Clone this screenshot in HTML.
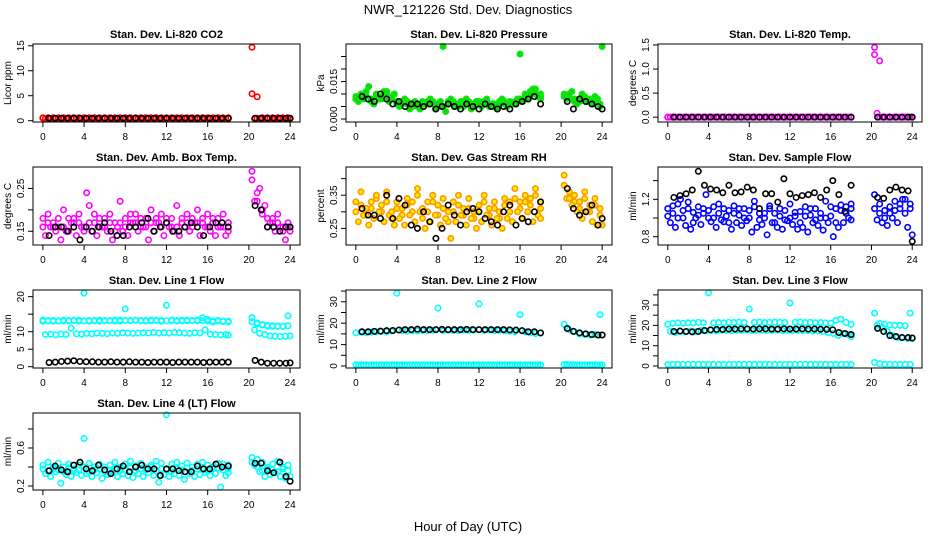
<!DOCTYPE html>
<html><head><meta charset="utf-8"><style>
html,body{margin:0;padding:0;background:#fff;}
svg{display:block;font-family:"Liberation Sans",sans-serif;}
</style></head><body>
<svg id="chart" width="936" height="540" viewBox="0 0 936 540" xmlns="http://www.w3.org/2000/svg">
<rect width="936" height="540" fill="#fff"/>
<text x="468" y="14" text-anchor="middle" font-size="13">NWR_121226  Std. Dev. Diagnostics</text>
<text x="468" y="531" text-anchor="middle" font-size="13">Hour of Day (UTC)</text>
</svg>
<script>
// shared time axes (hours)
const colorTimes = [0,0.5,1,1.5,2,2.5,3,3.5,4,4.5,5,5.5,6,6.5,7,7.5,8,8.5,9,9.5,10,10.5,11,11.5,12,12.5,13,13.5,14,14.5,15,15.5,16,16.5,17,17.5,18,20.3,20.8,21.3,21.8,22.3,22.8,23.3,23.8];
const colorTimes2 = [0.25,0.75,1.25,1.75,2.25,2.75,3.25,3.75,4.25,4.75,5.25,5.75,6.25,6.75,7.25,7.75,8.25,8.75,9.25,9.75,10.25,10.75,11.25,11.75,12.25,12.75,13.25,13.75,14.25,14.75,15.25,15.75,16.25,16.75,17.25,17.75,18.0,20.55,21.05,21.55,22.05,22.55,23.05,23.55,24.0];
const blackTimes = [0.6,1.2,1.8,2.4,3.0,3.6,4.2,4.8,5.4,6.0,6.6,7.2,7.8,8.4,9.0,9.6,10.2,10.8,11.4,12.0,12.6,13.2,13.8,14.4,15.0,15.6,16.2,16.8,17.4,18.0,20.6,21.2,21.8,22.4,23.0,23.6,24.0];
const xTicks = [0,4,8,12,16,20,24];

// Panel 1: CO2
const co2A = [0.5,0.5,0.5,0.5,0.5,0.5,0.5,0.5,0.5,0.5,0.5,0.5,0.5,0.5,0.5,0.5,0.5,0.5,0.5,0.5,0.5,0.5,0.5,0.5,0.5,0.5,0.5,0.5,0.5,0.5,0.5,0.5,0.5,0.5,0.5,0.5,0.5,14.7,0.5,0.5,0.5,0.5,0.5,0.5,0.5];
const co2B = [0.4,0.4,0.4,0.4,0.4,0.4,0.4,0.4,0.4,0.4,0.4,0.4,0.4,0.4,0.4,0.4,0.4,0.4,0.4,0.4,0.4,0.4,0.4,0.4,0.4,0.4,0.4,0.4,0.4,0.4,0.4,0.4,0.4,0.4,0.4,0.4,0.4,0.4,0.4,0.4,0.4,0.4,0.4,0.4,0.4];
const co2C = [0.6,0.6,0.6,0.6,0.6,0.6,0.6,0.6,0.6,0.6,0.6,0.6,0.6,0.6,0.6,0.6,0.6,0.6,0.6,0.6,0.6,0.6,0.6,0.6,0.6,0.6,0.6,0.6,0.6,0.6,0.6,0.6,0.6,0.6,0.6,0.6,0.6,5.4,4.8,0.6,0.6,0.6,0.6,0.6,0.6];
const co2Black = [0.5,0.5,0.5,0.5,0.5,0.5,0.5,0.5,0.5,0.5,0.5,0.5,0.5,0.5,0.5,0.5,0.5,0.5,0.5,0.5,0.5,0.5,0.5,0.5,0.5,0.5,0.5,0.5,0.5,0.5,0.5,0.5,0.5,0.5,0.5,0.5,0.5];

// Panel 2: Pressure
const presA = [0.009,0.010,0.011,0.008,0.010,0.009,0.011,0.008,0.007,0.006,0.007,0.005,0.006,0.007,0.006,0.007,0.005,0.029,0.006,0.007,0.006,0.005,0.007,0.006,0.007,0.006,0.005,0.006,0.007,0.006,0.007,0.006,0.026,0.010,0.011,0.012,0.010,0.010,0.009,0.008,0.007,0.009,0.008,0.007,0.006];
const presB = [0.007,0.008,0.013,0.006,0.008,0.011,0.007,0.010,0.005,0.008,0.004,0.007,0.004,0.006,0.008,0.004,0.007,0.003,0.008,0.005,0.007,0.008,0.004,0.007,0.005,0.008,0.006,0.004,0.008,0.005,0.006,0.008,0.007,0.008,0.012,0.009,0.008,0.008,0.011,0.006,0.010,0.007,0.006,0.008,0.029];
const presC = [0.008,0.009,0.009,0.007,0.009,0.008,0.009,0.009,0.006,0.007,0.006,0.006,0.005,0.006,0.007,0.006,0.006,0.005,0.007,0.006,0.005,0.006,0.006,0.005,0.006,0.007,0.006,0.005,0.006,0.007,0.006,0.007,0.008,0.009,0.010,0.010,0.009,0.009,0.010,0.007,0.008,0.008,0.007,0.009,0.005];
const presBlack = [0.009,0.008,0.007,0.010,0.008,0.006,0.007,0.005,0.006,0.006,0.005,0.006,0.004,0.005,0.006,0.005,0.004,0.006,0.005,0.004,0.006,0.005,0.004,0.005,0.004,0.006,0.007,0.008,0.009,0.006,0.007,0.004,0.008,0.007,0.006,0.005,0.004];

// Panel 3: Li-820 Temp
const tempA = [0,0,0,0,0,0,0,0,0,0,0,0,0,0,0,0,0,0,0,0,0,0,0,0,0,0,0,0,0,0,0,0,0,0,0,0,0,1.45,0,0,0,0,0,0,0];
const tempB = [0,0,0,0,0,0,0,0,0,0,0,0,0,0,0,0,0,0,0,0,0,0,0,0,0,0,0,0,0,0,0,0,0,0,0,0,0,0.08,0,0,0,0,0,0,0];
const tempC = [0,0,0,0,0,0,0,0,0,0,0,0,0,0,0,0,0,0,0,0,0,0,0,0,0,0,0,0,0,0,0,0,0,0,0,0,0,1.3,1.17,0,0,0,0,0,0];
const tempBlack = [0,0,0,0,0,0,0,0,0,0,0,0,0,0,0,0,0,0,0,0,0,0,0,0,0,0,0,0,0,0,0,0,0,0,0,0,0];

// Panel 4: Amb box temp
const ambA = [0.18,0.19,0.17,0.16,0.2,0.18,0.17,0.19,0.16,0.21,0.17,0.18,0.16,0.19,0.17,0.22,0.18,0.17,0.19,0.16,0.18,0.2,0.17,0.19,0.18,0.16,0.21,0.17,0.19,0.18,0.2,0.17,0.19,0.18,0.16,0.19,0.17,0.27,0.24,0.19,0.18,0.17,0.19,0.16,0.17];
const ambB = [0.14,0.16,0.15,0.13,0.15,0.17,0.14,0.16,0.24,0.15,0.14,0.16,0.15,0.13,0.16,0.15,0.14,0.17,0.15,0.16,0.13,0.15,0.17,0.14,0.16,0.15,0.14,0.16,0.15,0.17,0.14,0.16,0.15,0.14,0.16,0.14,0.15,0.22,0.25,0.21,0.17,0.15,0.16,0.13,0.15];
const ambC = [0.16,0.17,0.16,0.18,0.16,0.15,0.18,0.17,0.15,0.17,0.19,0.16,0.18,0.17,0.15,0.17,0.16,0.19,0.17,0.18,0.16,0.17,0.18,0.16,0.17,0.18,0.16,0.18,0.17,0.16,0.17,0.18,0.16,0.17,0.18,0.16,0.17,0.29,0.22,0.2,0.16,0.18,0.17,0.15,0.16];
const ambBlack = [0.14,0.16,0.16,0.15,0.16,0.13,0.16,0.15,0.16,0.17,0.15,0.14,0.14,0.16,0.16,0.17,0.18,0.15,0.16,0.17,0.15,0.15,0.16,0.17,0.16,0.14,0.16,0.17,0.17,0.16,0.21,0.20,0.16,0.16,0.15,0.16,0.16];

// Panel 5: Gas stream RH
const rhA = [0.3,0.32,0.29,0.31,0.34,0.3,0.33,0.28,0.31,0.29,0.32,0.3,0.35,0.28,0.3,0.33,0.29,0.31,0.27,0.3,0.32,0.29,0.31,0.28,0.3,0.33,0.29,0.31,0.28,0.32,0.3,0.34,0.31,0.33,0.32,0.35,0.31,0.41,0.36,0.33,0.31,0.34,0.3,0.32,0.29];
const rhB = [0.27,0.29,0.26,0.28,0.3,0.27,0.29,0.26,0.28,0.26,0.29,0.27,0.3,0.25,0.27,0.29,0.26,0.28,0.22,0.27,0.29,0.26,0.28,0.25,0.27,0.29,0.26,0.28,0.25,0.28,0.27,0.3,0.28,0.3,0.27,0.29,0.28,0.34,0.32,0.3,0.28,0.3,0.27,0.26,0.26];
const rhC = [0.33,0.36,0.31,0.33,0.35,0.32,0.36,0.3,0.33,0.31,0.34,0.33,0.37,0.31,0.33,0.35,0.32,0.34,0.3,0.33,0.35,0.31,0.34,0.3,0.32,0.35,0.31,0.33,0.3,0.34,0.33,0.37,0.33,0.35,0.34,0.37,0.33,0.38,0.34,0.35,0.33,0.36,0.32,0.34,0.31];
const rhBlack = [0.31,0.29,0.29,0.28,0.35,0.28,0.34,0.32,0.26,0.25,0.3,0.27,0.22,0.25,0.32,0.29,0.26,0.3,0.31,0.3,0.28,0.27,0.26,0.3,0.32,0.26,0.28,0.27,0.3,0.33,0.37,0.31,0.29,0.3,0.32,0.26,0.28];

// Panel 6: Sample flow
const flowA = [1.1,1.05,1.15,1.0,1.1,0.95,1.12,1.05,1.08,1.0,1.15,1.1,0.95,1.05,1.1,1.0,1.08,1.12,0.98,1.05,1.1,0.95,1.02,1.08,1.0,1.06,0.95,1.02,1.1,0.98,1.05,1.0,1.12,0.95,1.08,1.12,1.15,1.1,1.05,1.0,1.12,1.08,1.15,1.05,1.1];
const flowB = [0.95,0.9,1.2,0.92,0.88,1.0,0.93,1.25,0.96,0.9,0.98,1.02,0.88,0.95,0.92,0.97,0.85,0.9,0.93,0.82,0.95,0.9,0.88,0.97,0.93,0.88,0.9,0.85,0.95,0.92,0.87,0.95,0.8,0.9,0.95,1.0,0.98,0.98,0.95,0.92,1.0,0.95,1.2,0.9,0.82];
const flowC = [1.02,1.13,1.0,1.08,1.17,1.06,1.03,1.1,1.0,1.12,1.05,0.96,1.08,1.13,1.03,1.1,1.0,1.18,1.05,1.0,1.13,1.05,1.1,0.98,1.15,1.02,1.07,1.12,1.03,1.1,1.0,1.18,1.02,1.1,1.14,1.05,1.1,1.25,1.15,1.08,1.05,1.18,1.1,1.2,1.15];
const flowBlack = [1.22,1.24,1.26,1.3,1.5,1.35,1.31,1.3,1.27,1.35,1.27,1.28,1.33,1.3,1.1,1.26,1.26,1.17,1.42,1.26,1.22,1.24,1.25,1.27,1.22,1.3,1.4,1.25,1.07,1.35,1.22,1.21,1.3,1.33,1.3,1.29,0.75];

// Panel 7: Line 1 flow
const line1A = [13,13.2,13,13.1,13,13.2,13.3,13,21,13.2,13.1,13,13.2,13.1,13.3,13,16.5,13.2,13.3,13.1,13.2,13.3,13.2,13,17.5,13.3,13.2,13.1,13.3,13.2,13.1,13.2,13,13.1,13.2,13,13,14,12.5,12,11.8,11.5,11.6,11.5,14.5];
const line1B = [9.2,9.3,9.1,9.3,9.2,11,9.4,9.3,9.5,9.4,9.6,9.5,9.4,9.6,9.5,9.7,9.6,9.5,9.6,9.7,9.6,9.8,9.6,9.7,9.6,9.8,9.7,9.6,9.5,9.7,9.6,10.5,9.3,9.2,9.1,9.2,9.0,10.5,9.5,9.2,8.8,8.7,8.6,8.7,8.8];
const line1C = [13.3,13.1,13.2,13.0,13.3,13.1,13.2,13.3,13.1,13.0,13.2,13.3,13.1,13.2,13.0,13.3,13.2,13.1,13.3,13.2,13.0,13.1,13.3,13.2,13.1,13.2,13.0,13.3,13.1,13.2,13.3,14,13.5,12.8,13.0,12.9,12.8,12.8,12.2,11.9,11.6,11.7,11.5,11.6,11.7];
const line1Black = [1.2,1.3,1.5,1.6,1.7,1.5,1.4,1.4,1.3,1.3,1.4,1.3,1.3,1.4,1.3,1.3,1.2,1.3,1.3,1.3,1.2,1.3,1.3,1.3,1.3,1.2,1.3,1.3,1.3,1.3,1.8,1.3,1.0,1.0,1.0,1.0,1.1];

// Panel 8: Line 2 flow
const line2A = [15.5,15.8,15.5,15.8,16,16.2,16,16.3,34,16.5,16.3,16.5,16.4,16.6,16.5,16.7,27,16.5,16.7,16.6,16.5,16.8,16.6,16.7,29,16.6,16.8,16.5,16.7,16.4,16.2,16,24,16,15.5,15.2,15.3,19.5,17,16,15,14.8,14.5,14.7,24];
const line2B = [0.5,0.5,0.5,0.5,0.5,0.5,0.5,0.5,0.5,0.5,0.5,0.5,0.5,0.5,0.5,0.5,0.5,0.5,0.5,0.5,0.5,0.5,0.5,0.5,0.5,0.5,0.5,0.5,0.5,0.5,0.5,0.5,0.5,0.5,0.5,0.5,0.5,0.8,0.6,0.5,0.5,0.5,0.5,0.5,0.5];
const line2C = [0.6,0.6,0.6,0.6,0.6,0.6,0.6,0.6,0.6,0.6,0.6,0.6,0.6,0.6,0.6,0.6,0.6,0.6,0.6,0.6,0.6,0.6,0.6,0.6,0.6,0.6,0.6,0.6,0.6,0.6,0.6,0.6,0.6,0.6,0.6,0.6,0.6,0.7,0.6,0.6,0.6,0.6,0.6,0.6,0.6];
const line2Black = [16,16,16.2,16.3,16.5,16.6,16.8,17,17,17.2,17,17,17,17.1,17,17,17,17.1,17,17,17,17,17,17,16.9,16.8,16.5,16,16,15.5,17.5,16.2,15.5,15,14.7,14.5,14.5];

// Panel 9: Line 3 flow
const line3A = [20.5,21,21.2,21,21.3,21.2,21.5,21.3,36,21.2,21.4,21.3,21.5,21.4,21.6,21.4,28,21.5,21.6,21.4,21.5,21.6,21.5,21.4,31,21.5,21.6,21.4,21.5,21.3,21.4,21.2,21,22.5,23,21.5,20.5,26,21,20.5,20.2,20,20,19.8,26];
const line3B = [17,16.5,17,16.8,17.2,17,17.5,17.2,17.5,17.3,17.6,17.5,17.4,17.6,17.5,17.7,17.5,17.6,17.7,17.5,17.6,17.7,17.5,17.6,17.5,17.6,17.5,17.4,17.3,17.2,17,16.5,16,15,16,15.5,14.5,20,19,17,15,14,14,13.5,13.5];
const line3C = [0.8,0.8,0.8,0.8,0.8,0.8,0.8,0.8,0.8,0.8,0.8,0.8,0.8,0.8,0.8,0.8,0.8,0.8,0.8,0.8,0.8,0.8,0.8,0.8,0.8,0.8,0.8,0.8,0.8,0.8,0.8,0.8,0.8,0.8,0.8,0.8,0.8,1.8,1.2,0.8,0.8,0.8,0.8,0.8,0.8];
const line3Black = [17,17.2,17,16.8,17,17.5,17.8,18,18,18.2,18.2,18.3,18.3,18.2,18.3,18.3,18.2,18.2,18.3,18.2,18.2,18.3,18.2,18.2,18.1,18,17.8,16.5,16,15.5,18.5,17,15,14.5,14,14,13.8];

// Panel 10: Line 4 (LT) flow
const line4A = [0.42,0.45,0.38,0.44,0.4,0.43,0.38,0.42,0.7,0.44,0.4,0.43,0.35,0.42,0.45,0.4,0.43,0.46,0.41,0.44,0.39,0.42,0.46,0.44,0.95,0.43,0.45,0.41,0.44,0.4,0.43,0.45,0.42,0.4,0.44,0.43,0.42,0.5,0.48,0.45,0.4,0.43,0.46,0.38,0.42];
const line4B = [0.33,0.3,0.35,0.23,0.32,0.3,0.34,0.31,0.33,0.3,0.34,0.28,0.32,0.35,0.3,0.33,0.31,0.29,0.33,0.3,0.34,0.31,0.24,0.32,0.3,0.33,0.31,0.27,0.33,0.3,0.32,0.34,0.31,0.33,0.19,0.31,0.34,0.42,0.35,0.3,0.32,0.34,0.3,0.28,0.3];
const line4C = [0.38,0.36,0.4,0.37,0.35,0.39,0.36,0.37,0.4,0.35,0.37,0.38,0.4,0.36,0.38,0.36,0.37,0.39,0.36,0.38,0.37,0.4,0.36,0.38,0.37,0.35,0.38,0.37,0.39,0.36,0.38,0.37,0.36,0.38,0.39,0.37,0.38,0.45,0.4,0.36,0.38,0.37,0.35,0.4,0.36];
const line4Black = [0.36,0.41,0.37,0.35,0.42,0.45,0.38,0.36,0.42,0.37,0.33,0.38,0.41,0.35,0.4,0.42,0.38,0.38,0.31,0.38,0.38,0.36,0.35,0.35,0.41,0.38,0.38,0.43,0.4,0.41,0.44,0.44,0.36,0.34,0.45,0.3,0.25];

// tick values & labels
const co2Ticks=[0,5,10,15], co2Labels=["0","5","10","15"];
const presTicks=[0,0.005,0.01,0.015,0.02,0.025], presLabels=["0.000","","","0.015","",""];
const tempTicks=[0,0.5,1,1.5], tempLabels=["0.0","0.5","1.0","1.5"];
const ambTicks=[0.15,0.2,0.25], ambLabels=["0.15","","0.25"];
const rhTicks=[0.25,0.3,0.35,0.4], rhLabels=["0.25","","0.35",""];
const flowTicks=[0.8,1.0,1.2,1.4], flowLabels=["0.8","","1.2",""];
const line1Ticks=[0,5,10,15,20], line1Labels=["0","5","10","","20"];
const line2Ticks=[0,5,10,15,20,25,30,35], line2Labels=["0","","10","","20","","30",""];
const line3Ticks=[0,5,10,15,20,25,30,35], line3Labels=["0","","10","","20","","30",""];
const line4Ticks=[0.2,0.4,0.6,0.8], line4Labels=["0.2","","0.6",""];

const NS="http://www.w3.org/2000/svg";
const svg=document.getElementById('chart');
function mk(tag,attrs,parent){const e=document.createElementNS(NS,tag);for(const k in attrs)e.setAttribute(k,attrs[k]);(parent||svg).appendChild(e);return e;}

const cols=[{l:33,r:300},{l:346,r:612},{l:658,r:922}];
const rows=[{t:44,b:122},{t:167,b:245},{t:290,b:368},{t:413,b:490}];

const panels=[
 {key:'co2',title:'Stan. Dev. Li-820 CO2',ylab:'Licor ppm',c:0,r:0,y0:-0.26,y1:15.35,ticks:co2Ticks,labels:co2Labels,col:'#ff0000',fill:'none',series:[co2A,co2B,co2C],black:co2Black},
 {key:'pressure',title:'Stan. Dev. Li-820 Pressure',ylab:'kPa',c:1,r:0,y0:-0.0012,y1:0.030,ticks:presTicks,labels:presLabels,col:'#00ee00',fill:'#22cc22',series:[presA,presB,presC],black:presBlack},
 {key:'li820-temp',title:'Stan. Dev. Li-820 Temp.',ylab:'degrees C',c:2,r:0,y0:-0.1,y1:1.52,ticks:tempTicks,labels:tempLabels,col:'#ff00ff',fill:'none',series:[tempA,tempB,tempC],black:tempBlack},
 {key:'amb-temp',title:'Stan. Dev. Amb. Box Temp.',ylab:'degrees C',c:0,r:1,y0:0.118,y1:0.30,ticks:ambTicks,labels:ambLabels,col:'#ff00ff',fill:'none',series:[ambA,ambB,ambC],black:ambBlack},
 {key:'rh',title:'Stan. Dev. Gas Stream RH',ylab:'percent',c:1,r:1,y0:0.2,y1:0.435,ticks:rhTicks,labels:rhLabels,col:'#ff9900',fill:'#ffee00',series:[rhA,rhB,rhC],black:rhBlack},
 {key:'sample-flow',title:'Stan. Dev. Sample Flow',ylab:'ml/min',c:2,r:1,y0:0.711,y1:1.546,ticks:flowTicks,labels:flowLabels,col:'#0000ff',fill:'none',series:[flowA,flowB,flowC],black:flowBlack},
 {key:'line1-flow',title:'Stan. Dev. Line 1 Flow',ylab:'ml/min',c:0,r:2,y0:-0.37,y1:21.9,ticks:line1Ticks,labels:line1Labels,col:'#00ffff',fill:'none',series:[line1A,line1B,line1C],black:line1Black},
 {key:'line2-flow',title:'Stan. Dev. Line 2 Flow',ylab:'ml/min',c:1,r:2,y0:-0.93,y1:35.5,ticks:line2Ticks,labels:line2Labels,col:'#00ffff',fill:'none',series:[line2A,line2B,line2C],black:line2Black},
 {key:'line3-flow',title:'Stan. Dev. Line 3 Flow',ylab:'ml/min',c:2,r:2,y0:-0.98,y1:37.4,ticks:line3Ticks,labels:line3Labels,col:'#00ffff',fill:'none',series:[line3A,line3B,line3C],black:line3Black},
 {key:'line4-flow',title:'Stan. Dev. Line 4 (LT) Flow',ylab:'ml/min',c:0,r:3,y0:0.158,y1:0.968,ticks:line4Ticks,labels:line4Labels,col:'#00ffff',fill:'none',series:[line4A,line4B,line4C],black:line4Black}
];

panels.forEach(p=>{
  const L=cols[p.c].l,R=cols[p.c].r,T=rows[p.r].t,B=rows[p.r].b;
  const xs=h=>L+(h+0.96)/25.92*(R-L);
  const ys=v=>B-(v-p.y0)/(p.y1-p.y0)*(B-T);
  const g=mk('g',{});
  
  
  const ttl=mk('text',{x:(L+R)/2,y:T-6,'text-anchor':'middle','font-size':'11','font-weight':'bold'},g);
  ttl.textContent=p.title;
  
  
  const yl=mk('text',{x:0,y:0,'text-anchor':'middle','font-size':'10',transform:`translate(${L-22},${(T+B)/2}) rotate(-90)`},g);
  yl.textContent=p.ylab;
  
  
  const plot=mk('g',{},g);
  
  
  p.series.forEach((arr,si)=>{
    const times = (si===1) ? colorTimes2 : colorTimes;
    const n=Math.min(arr.length,times.length);
    for(let i=0;i<n;i++){
      const c=mk('circle',{cx:xs(times[i]),cy:ys(arr[i]),r:2.7,fill:p.fill,stroke:p.col,'stroke-width':1.6},plot);
      
      
    }
  });
  const n=Math.min(p.black.length,blackTimes.length);
  for(let i=0;i<n;i++){
    const c=mk('circle',{cx:xs(blackTimes[i]),cy:ys(p.black[i]),r:2.7,fill:'none',stroke:'#000','stroke-width':1.6},plot);
    
    
  }
  const box=mk('rect',{x:L,y:T,width:R-L,height:B-T,fill:'none',stroke:'#000','stroke-width':1},g);
  
  
  xTicks.forEach(h=>{
    const x=xs(h);
    const tk=mk('line',{x1:x,y1:B,x2:x,y2:B+5,stroke:'#000'},g);
    
    
    const tl=mk('text',{x:x,y:B+18,'text-anchor':'middle','font-size':'10'},g);
    tl.textContent=String(h);
    
    
  });
  p.ticks.forEach((v,i)=>{
    const y=ys(v);
    const tk=mk('line',{x1:L-5,y1:y,x2:L,y2:y,stroke:'#000'},g);
    
    
    if(p.labels[i]){
      const tl=mk('text',{x:0,y:0,'text-anchor':'middle','font-size':'10',transform:`translate(${L-9},${y}) rotate(-90)`},g);
      tl.textContent=p.labels[i];
      
      
    }
  });
});
</script>
</body></html>
